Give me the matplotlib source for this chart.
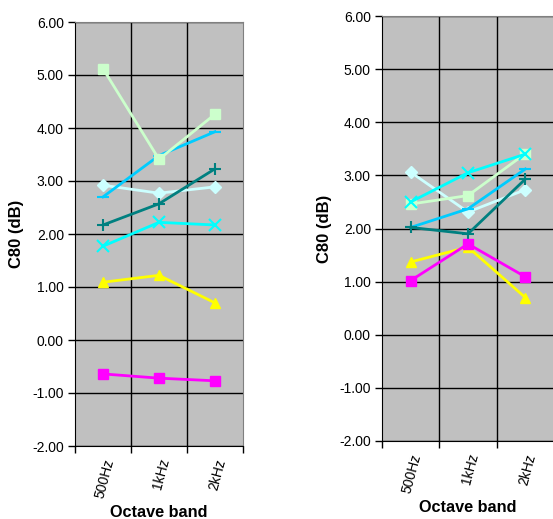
import matplotlib
matplotlib.use("Agg")
import matplotlib.pyplot as plt
import numpy as np

plt.rcParams['font.family'] = ['Liberation Sans', 'DejaVu Sans']

categories = ["500Hz", "1kHz", "2kHz"]
yticks = [-2.0, -1.0, 0.0, 1.0, 2.0, 3.0, 4.0, 5.0, 6.0]

# Left chart series
left_lightgreen = [5.12, 3.41, 4.26]
left_blue = [2.70, 3.48, 3.93]
left_lightcyan = [2.92, 2.77, 2.89]
left_teal = [2.17, 2.57, 3.23]
left_cyan = [1.77, 2.22, 2.17]
left_yellow = [1.09, 1.22, 0.70]
left_magenta = [-0.64, -0.72, -0.77]

# Right chart series
right_lightgreen = [2.46, 2.62, 3.41]
right_blue = [2.02, 2.37, 3.12]
right_lightcyan = [3.06, 2.31, 2.73]
right_teal = [2.02, 1.90, 2.93]
right_cyan = [2.50, 3.05, 3.40]
right_yellow = [1.37, 1.65, 0.70]
right_magenta = [1.02, 1.71, 1.09]

styles = [
    ("lightcyan", "#CCFFFF", "D", 6),
    ("blue", "#00CCFF", "_", 9),
    ("lightgreen", "#CCFFCC", "s", 7),
    ("teal", "#008080", "+", 9),
    ("cyan", "#00FFFF", "x", 8),
    ("yellow", "#FFFF00", "^", 7),
    ("magenta", "#FF00FF", "s", 7),
]

left_data = {"lightgreen": left_lightgreen, "blue": left_blue, "lightcyan": left_lightcyan,
             "teal": left_teal, "cyan": left_cyan, "yellow": left_yellow, "magenta": left_magenta}
right_data = {"lightgreen": right_lightgreen, "blue": right_blue, "lightcyan": right_lightcyan,
              "teal": right_teal, "cyan": right_cyan, "yellow": right_yellow, "magenta": right_magenta}

fig = plt.figure(figsize=(5.53, 5.19), dpi=100)
ax1 = fig.add_axes([75/553, 1-446/519, 168/553, 424/519])
ax2 = fig.add_axes([382/553, 1-441/519, 172/553, 425/519])

for ax, data in ((ax1, left_data), (ax2, right_data)):
    ax.set_facecolor("#C0C0C0")
    x = np.arange(len(categories))
    for name, color, marker, ms in styles:
        mew = 1.5 if marker in "+x_" else 1
        ax.plot(x, data[name], color=color, lw=2, marker=marker, ms=ms,
                mec=color, mfc=color, mew=mew, zorder=3)
    ax.set_xlim(-0.5, 2.5)
    ax.set_ylim(-2, 6)
    ax.set_yticks(yticks)
    ax.set_yticklabels([f"{v:.2f}" for v in yticks], fontsize=10)
    ax.set_xticks([-0.5, 0.5, 1.5, 2.5])
    ax.set_xticklabels([])
    ax.set_xticks(x, minor=True)
    ax.set_xticklabels(categories, minor=True, rotation=75, fontsize=10,
                       ha="right", va="top", rotation_mode="anchor")
    ax.tick_params(axis="x", which="minor", length=0, pad=8)
    ax.tick_params(axis="x", which="major", length=5, width=1, direction="out")
    ax.tick_params(axis="y", length=5, width=1, direction="out", pad=3)
    for v in yticks:
        ax.axhline(v, color="black", lw=1, zorder=1)
    for v in [0.5, 1.5]:
        ax.axvline(v, color="black", lw=1, zorder=1)
    ax.spines["left"].set_color("black")
    ax.spines["bottom"].set_color("black")
    ax.spines["top"].set_color("#808080")
    ax.spines["right"].set_color("#808080")
    ax.set_xlabel("Octave band", fontsize=11.7, fontweight="bold", labelpad=4)
    ax.set_ylabel("C80 (dB)", fontsize=12, fontweight="bold", labelpad=5.5)

fig.savefig("out.png", dpi=100)
